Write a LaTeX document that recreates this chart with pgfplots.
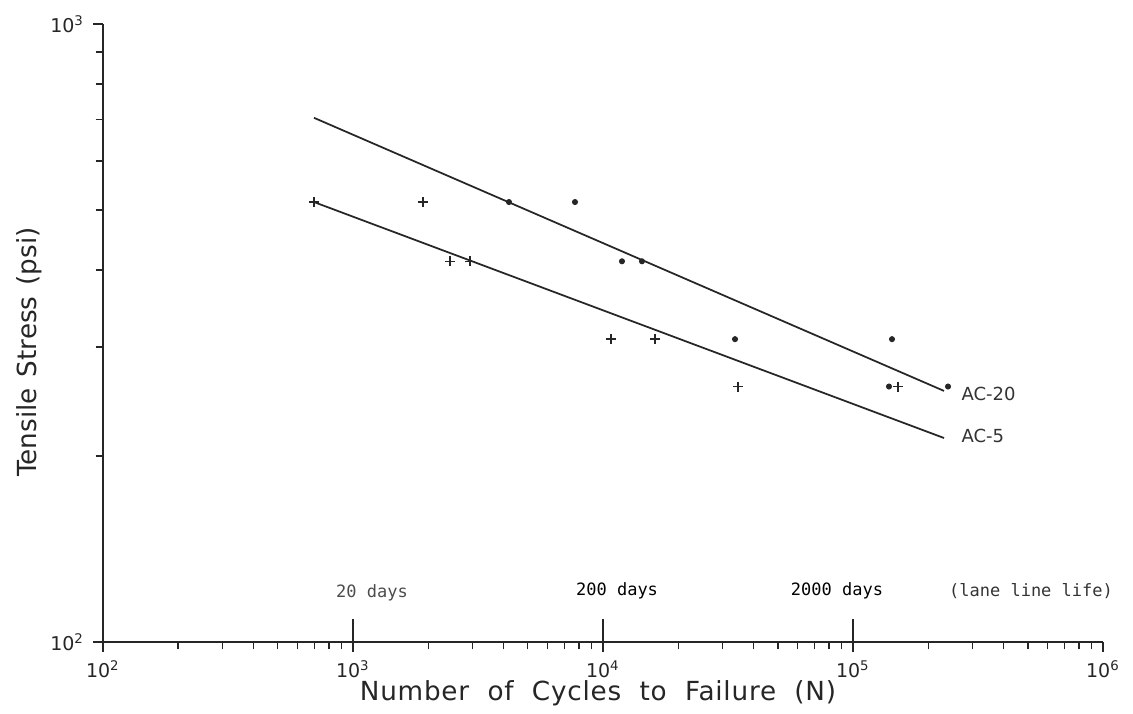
\documentclass[border=0pt]{standalone}
\usepackage{pgfplots}
\pgfplotsset{compat=1.18}
\usepackage{fontspec}
\setmainfont{DejaVu Sans}
\newfontfamily\monofont{DejaVu Sans Mono}
\newfontfamily\widefont[LetterSpace=3]{DejaVu Sans}

% fatigue data
\pgfplotstableread{
N       S
698     515
1905    515
2443    413
2938    413
10765   309
16140   309
34670   259
151400  259
}\acfive
\pgfplotstableread{
N       S
4207    515
7727    515
11910   413
14320   413
33730   309
143200  309
139300  259
239900  259
}\actwenty

\begin{document}
\begin{tikzpicture}
\begin{axis}[
  name=ax,
  scale only axis,
  width=400pt, height=247.2pt,
  xmode=log, ymode=log,
  xmin=100, xmax=1e6, ymin=100, ymax=1000,
  axis x line*=bottom, axis y line*=left,
  axis line style={line width=0.8pt, black!85},
  clip=false,
  tick align=outside,
  major tick length=4pt, minor tick length=3pt,
  every tick/.style={line width=0.6pt, black!85},
  xtick={100,1000,10000,100000,1000000},
  xticklabels={10\textsuperscript{2},10\textsuperscript{3},10\textsuperscript{4},10\textsuperscript{5},10\textsuperscript{6}},
  minor xtick={200,300,400,500,600,700,800,900,2000,3000,4000,5000,6000,7000,8000,9000,20000,30000,40000,50000,60000,70000,80000,90000,200000,300000,400000,500000,600000,700000,800000,900000},
  extra x ticks={1000,10000,100000},
  extra x tick labels={},
  extra x tick style={tick align=inside, major tick length=9pt},
  ytick={100,1000},
  yticklabels={10\textsuperscript{2},10\textsuperscript{3}},
  minor ytick={200,300,400,500,600,700,800,900},
  ticklabel style={font=\fontsize{7.6}{9}\selectfont, black!85},
  xticklabel style={yshift=0pt},
  every axis x label/.style={at={(rel axis cs:0.495,-0.083)}, anchor=center},
  every axis y label/.style={at={(rel axis cs:-0.074,0.469)}, rotate=90, anchor=center},
  label style={font=\fontsize{10.5}{12}\selectfont, black!85},
  xlabel={\widefont Number\hspace{0.35em} of\hspace{0.35em} Cycles\hspace{0.35em} to\hspace{0.35em} Failure\hspace{0.35em} (N)},
  ylabel={Tensile\hspace{0.1em} Stress\hspace{0.1em} (psi)},
]
  % fitted lines
  \addplot[black!85, line width=0.7pt] coordinates {(698,705) (231200,254.8)};
  \addplot[black!85, line width=0.7pt] coordinates {(698,515) (231200,213.8)};
  % measured points
  \addplot[only marks, mark=+, mark size=2pt, black!85, mark options={line width=0.6pt}] table[x=N, y=S] {\acfive};
  \addplot[only marks, mark=*, mark size=1pt, black!85] table[x=N, y=S] {\actwenty};

  \node[anchor=west, inner sep=0pt, font=\fontsize{7.2}{9}\selectfont, black!80] at (axis cs:270400,251.8) {AC-20};
  \node[anchor=west, inner sep=0pt, font=\fontsize{7.2}{9}\selectfont, black!80] at (axis cs:270400,215.4) {AC-5};

  \node[font=\monofont\fontsize{6.8}{8}\selectfont, black!70] at (axis cs:1191,120) {20 days};
  \node[font=\monofont\fontsize{6.8}{8}\selectfont, black] at (axis cs:11380,120.9) {200 days};
  \node[font=\monofont\fontsize{6.8}{8}\selectfont, black] at (axis cs:86300,120.9) {2000 days};
  \node[font=\monofont\fontsize{6.8}{8}\selectfont, black!80] at (axis cs:515200,120.9) {(lane line life)};

  \coordinate (bbl) at (rel axis cs:-0.103,-0.1165);
  \coordinate (btr) at (rel axis cs:1.030,1.0388);
\end{axis}
\pgfresetboundingbox
\path (bbl) rectangle (btr);
\end{tikzpicture}
\end{document}
